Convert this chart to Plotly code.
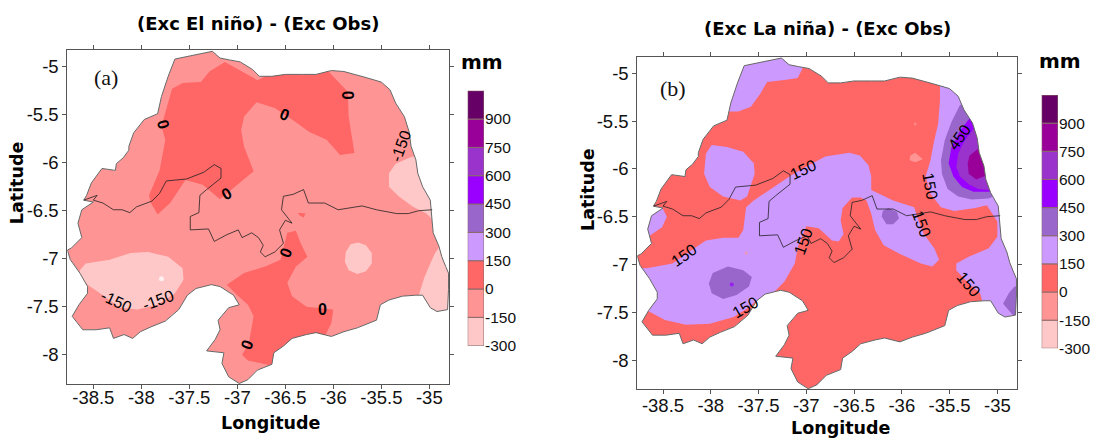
import plotly.graph_objects as go

# ---- data (longitude, latitude) ----
OUTLINE = [(-37.26,-4.84),(-37.18,-4.91),(-37.08,-4.93),(-36.97,-4.95),(-36.84,-5.03),(-36.77,-5.10),(-36.64,-5.10),(-36.50,-5.08),
 (-36.32,-5.08),(-36.18,-5.08),(-36.02,-5.04),(-35.89,-5.05),(-35.67,-5.11),(-35.50,-5.16),(-35.41,-5.24),(-35.35,-5.38),(-35.26,-5.52),
 (-35.21,-5.68),(-35.19,-5.83),(-35.14,-5.97),(-35.12,-6.11),(-35.07,-6.25),(-34.99,-6.39),(-34.98,-6.53),(-34.96,-6.73),(-34.90,-6.87),
 (-34.87,-6.98),(-34.83,-7.08),(-34.80,-7.15),(-34.80,-7.32),(-34.81,-7.53),(-34.92,-7.55),(-34.99,-7.51),(-35.07,-7.38),(-35.14,-7.38),
 (-35.28,-7.39),(-35.42,-7.43),(-35.51,-7.48),(-35.55,-7.64),(-35.75,-7.72),(-35.89,-7.76),(-36.02,-7.81),(-36.18,-7.77),(-36.28,-7.79),
 (-36.43,-7.83),(-36.52,-7.91),(-36.62,-7.98),(-36.64,-8.10),(-36.79,-8.16),(-36.89,-8.26),(-36.98,-8.30),(-37.09,-8.23),(-37.16,-8.09),
 (-37.14,-7.98),(-37.32,-7.96),(-37.23,-7.84),(-37.18,-7.74),(-37.20,-7.64),(-37.09,-7.51),(-36.98,-7.48),(-37.04,-7.38),(-37.18,-7.29),
 (-37.27,-7.27),(-37.43,-7.31),(-37.52,-7.38),(-37.61,-7.53),(-37.75,-7.65),(-37.90,-7.71),(-38.01,-7.76),(-38.09,-7.83),(-38.18,-7.79),
 (-38.29,-7.83),(-38.33,-7.72),(-38.47,-7.74),(-38.61,-7.74),(-38.72,-7.60),(-38.65,-7.48),(-38.56,-7.36),(-38.56,-7.29),(-38.64,-7.15),
 (-38.69,-7.08),(-38.74,-7.01),(-38.77,-6.91),(-38.73,-6.89),(-38.62,-6.78),(-38.66,-6.63),(-38.62,-6.49),(-38.50,-6.41),(-38.60,-6.39),
 (-38.57,-6.34),(-38.52,-6.21),(-38.41,-6.06),(-38.27,-6.08),(-38.26,-6.01),(-38.19,-5.95),(-38.13,-5.87),(-38.13,-5.83),(-38.08,-5.69),
 (-37.97,-5.55),(-37.83,-5.49),(-37.79,-5.31),(-37.72,-5.10),(-37.65,-4.92),(-37.47,-4.88),(-37.26,-4.84)]

STATE_BORDER = [(-38.60,-6.39),(-38.46,-6.34),(-38.50,-6.39),(-38.40,-6.42),(-38.29,-6.49),(-38.20,-6.49),(-38.12,-6.52),(-38.05,-6.46),
 (-37.89,-6.40),(-37.81,-6.32),(-37.74,-6.19),(-37.53,-6.17),(-37.35,-6.10),(-37.24,-6.02),(-37.17,-6.06),(-37.17,-6.16),(-37.32,-6.28),
 (-37.39,-6.34),(-37.40,-6.52),(-37.49,-6.56),(-37.49,-6.70),(-37.30,-6.69),(-37.24,-6.82),(-37.11,-6.75),(-36.99,-6.70),(-36.95,-6.78),
 (-36.85,-6.73),(-36.78,-6.78),(-36.73,-6.86),(-36.76,-6.93),(-36.71,-6.98),(-36.61,-6.93),(-36.52,-6.84),(-36.56,-6.70),(-36.50,-6.60),
 (-36.43,-6.63),(-36.54,-6.49),(-36.52,-6.35),(-36.42,-6.33),(-36.31,-6.28),(-36.26,-6.42),(-36.09,-6.42),(-35.95,-6.49),(-35.70,-6.45),
 (-35.55,-6.49),(-35.34,-6.53),(-35.22,-6.53),(-35.11,-6.50),(-34.97,-6.49)]

# contour bands
LEVELS = [-300,-150,0,150,300,450,600,750,900]
BAND_COLORS = ["#FFC8C8","#FF9494","#FF6666","#CC99FF","#9966CC","#9900FF","#9933CC","#990099","#660066"]
BAND_TOP = 1050

# panel (a): base band -150
A_BASE = -150
A_REGIONS = [
 (0,[(-37.13,-4.95),(-36.79,-5.14),(-36.50,-5.0),(-36.05,-5.0),(-36.05,-5.05),(-35.85,-5.26),(-35.84,-5.52),(-35.78,-5.90),(-35.93,-5.92),
     (-36.07,-5.76),(-36.25,-5.68),(-36.43,-5.55),(-36.61,-5.43),(-36.80,-5.37),(-36.93,-5.52),(-36.96,-5.66),(-36.93,-5.83),(-36.83,-6.09),
     (-37.00,-6.23),(-37.18,-6.38),(-37.36,-6.23),(-37.54,-6.18),(-37.70,-6.42),(-37.83,-6.54),(-37.90,-6.42),(-37.92,-6.34),(-37.81,-6.08),
     (-37.75,-5.76),(-37.79,-5.62),(-37.74,-5.45),(-37.68,-5.23),(-37.57,-5.17),(-37.38,-5.16),(-37.29,-5.05)]),
 (0,[(-36.48,-6.73),(-36.39,-6.71),(-36.34,-6.84),(-36.27,-6.98),(-36.39,-7.08),(-36.48,-7.25),(-36.43,-7.39),(-36.28,-7.50),(-36.0,-7.53),
     (-36.02,-7.67),(-36.09,-7.81),(-36.25,-7.88),(-36.61,-8.12),(-36.89,-8.06),(-36.95,-8.0),(-36.88,-7.88),(-36.83,-7.60),(-36.89,-7.48),
     (-37.0,-7.38),(-37.11,-7.27),(-36.93,-7.15),(-36.71,-7.08),(-36.55,-7.01)]),
 (0,[(-36.37,-6.52),(-36.29,-6.53),(-36.31,-6.57),(-36.35,-6.55)]),
 (-300,[(-35.19,-5.94),(-35.35,-6.01),(-35.42,-6.11),(-35.42,-6.25),(-35.32,-6.35),(-35.17,-6.46),(-35.03,-6.53),(-34.96,-6.60),(-34.8,-6.4),(-34.8,-5.87)]),
 (-300,[(-38.64,-7.12),(-38.58,-7.05),(-38.33,-7.01),(-38.11,-6.94),(-37.93,-6.93),(-37.72,-6.98),(-37.57,-7.10),(-37.56,-7.22),(-37.65,-7.36),
        (-37.83,-7.48),(-38.04,-7.53),(-38.22,-7.51),(-38.40,-7.38),(-38.56,-7.27),(-38.64,-7.17)]),
 (-300,[(-35.74,-6.83),(-35.66,-6.86),(-35.60,-6.94),(-35.60,-7.05),(-35.66,-7.13),(-35.75,-7.16),(-35.84,-7.12),(-35.88,-7.03),(-35.87,-6.93),(-35.82,-6.85)]),
 (-300,[(-34.89,-6.87),(-34.94,-6.94),(-34.99,-7.05),(-35.05,-7.19),(-35.11,-7.38),(-35.03,-7.55),(-34.78,-7.6),(-34.78,-6.87)]),
]
A_SPOTS = [(-37.79,-7.21,"#FFFFFF",5)]
A_LABELS = [("<b>0</b>",-37.77,-5.60,75),("<b>0</b>",-35.85,-5.30,90),("<b>0</b>",-36.51,-5.50,20),("<b>0</b>",-37.11,-6.32,-30),("<b>0</b>",-36.49,-6.94,-70),
            ("<b>0</b>",-36.11,-7.53,0),("<b>0</b>",-36.90,-7.89,-70),("-150",-35.30,-5.83,-70),("-150",-38.26,-7.45,25),("-150",-37.83,-7.43,-20)]

# panel (b): base band 0
B_BASE = 0
B_REGIONS = [
 (150,[(-37.04,-4.95),(-37.09,-5.05),(-37.23,-5.07),(-37.41,-5.09),(-37.48,-5.21),(-37.58,-5.35),(-37.71,-5.40),(-37.87,-5.40),(-37.98,-5.28),(-37.80,-4.83),(-37.09,-4.80)]),
 (150,[(-37.99,-5.75),(-37.83,-5.77),(-37.66,-5.82),(-37.55,-5.94),(-37.54,-6.05),(-37.62,-6.29),(-37.69,-6.33),(-37.87,-6.29),(-38.01,-6.19),(-38.07,-6.05),(-38.05,-5.84)]),
 (150,[(-38.51,-6.40),(-38.46,-6.50),(-38.51,-6.61),(-38.67,-6.72),(-38.76,-6.72),(-38.62,-6.40)]),
 (150,[(-38.67,-7.04),(-38.40,-6.99),(-38.23,-6.87),(-38.05,-6.75),(-37.87,-6.72),(-37.71,-6.72),(-37.66,-6.64),(-37.63,-6.40),(-37.55,-6.33),(-37.37,-6.21),
       (-37.16,-6.07),(-37.01,-5.98),(-36.80,-5.87),(-36.55,-5.83),(-36.44,-5.86),(-36.35,-5.96),(-36.32,-6.08),(-36.32,-6.22),(-36.09,-6.33),(-35.87,-6.40),
       (-35.84,-6.50),(-35.77,-6.68),(-35.66,-6.83),(-35.61,-6.95),(-35.68,-7.02),(-35.80,-6.99),(-36.02,-6.89),(-36.19,-6.80),(-36.28,-6.64),(-36.32,-6.47),
       (-36.37,-6.33),(-36.43,-6.30),(-36.52,-6.30),(-36.62,-6.41),(-36.64,-6.54),(-36.61,-6.68),(-36.66,-6.76),(-36.73,-6.75),(-36.87,-6.62),(-37.0,-6.60),
       (-37.09,-6.82),(-37.12,-6.99),(-37.23,-7.18),(-37.35,-7.30),(-37.50,-7.36),(-37.62,-7.46),(-37.76,-7.55),(-38.01,-7.62),(-38.26,-7.63),(-38.48,-7.58),
       (-38.65,-7.49),(-38.77,-7.49),(-38.77,-7.04)]),
 (150,[(-35.60,-5.07),(-35.60,-5.28),(-35.62,-5.53),(-35.66,-5.70),(-35.70,-5.91),(-35.75,-6.08),(-35.70,-6.26),(-35.59,-6.40),(-35.45,-6.44),(-35.23,-6.41),
       (-35.11,-6.38),(-35.0,-6.55),(-35.0,-6.71),(-35.09,-6.83),(-35.30,-6.92),(-35.43,-6.99),(-35.43,-7.06),(-35.30,-7.20),(-35.18,-7.30),(-35.14,-7.45),
       (-34.78,-7.7),(-34.78,-5.07)]),
 (300,[(-35.39,-5.33),(-35.48,-5.51),(-35.55,-5.70),(-35.59,-5.91),(-35.58,-6.05),(-35.52,-6.21),(-35.41,-6.29),(-35.27,-6.32),(-35.09,-6.31),(-34.98,-6.26),(-34.98,-5.28)]),
 (450,[(-35.29,-5.47),(-35.39,-5.60),(-35.48,-5.77),(-35.51,-5.94),(-35.46,-6.08),(-35.37,-6.19),(-35.25,-6.24),(-35.07,-6.24),(-34.98,-6.22),(-34.98,-5.42)]),
 (600,[(-35.25,-5.58),(-35.34,-5.70),(-35.41,-5.84),(-35.43,-5.98),(-35.39,-6.08),(-35.30,-6.16),(-35.20,-6.21),(-35.09,-6.22),(-34.98,-6.19),(-34.98,-5.53)]),
 (750,[(-35.20,-5.79),(-35.29,-5.86),(-35.31,-5.94),(-35.30,-6.05),(-35.22,-6.11),(-35.12,-6.07),(-35.05,-6.01),(-35.12,-5.80)]),
 (300,[(-34.82,-7.23),(-34.88,-7.30),(-34.94,-7.41),(-34.82,-7.55),(-34.77,-7.55),(-34.77,-7.23)]),
 (300,[(-37.82,-7.02),(-37.66,-7.06),(-37.57,-7.13),(-37.60,-7.23),(-37.73,-7.32),(-37.87,-7.36),(-37.99,-7.30),(-38.02,-7.20),(-37.98,-7.09)]),
 (300,[(-36.14,-6.41),(-36.05,-6.45),(-36.03,-6.52),(-36.09,-6.58),(-36.16,-6.58),(-36.21,-6.50),(-36.20,-6.44)]),
 (-150,[(-35.91,-5.86),(-35.86,-5.83),(-35.78,-5.90),(-35.86,-5.93),(-35.92,-5.91)]),
]
B_SPOTS = [(-37.78,-7.21,"#9900FF",4),(-35.86,-5.53,"#FF9494",3),(-37.63,-6.88,"#FF9494",3)]
B_LABELS = [("150",-37.03,-6.01,-25),("150",-38.28,-6.91,-35),("150",-37.03,-6.76,-70),("150",-37.64,-7.45,-30),("150",-35.70,-6.18,80),
            ("150",-35.79,-6.58,70),("150",-35.30,-7.21,50),("450",-35.40,-5.67,-55)]

LON_TICKS = [-38.5,-38,-37.5,-37,-36.5,-36,-35.5,-35]
LAT_TICKS = [-5,-5.5,-6,-6.5,-7,-7.5,-8]
W, H = 1094, 438
def fx(p): return p/W
def fy(p): return 1-p/H
color_of = dict(zip(LEVELS, BAND_COLORS))
SANS = "Liberation Sans"; BOLD = "DejaVu Sans"; FRAME = "#555555"

fig = go.Figure()

def poly(pts, color, xa, ya):
    fig.add_trace(go.Scatter(x=[p[0] for p in pts], y=[p[1] for p in pts], mode="lines", fill="toself",
                             fillcolor=color, line=dict(width=0, color=color), hoverinfo="skip", showlegend=False,
                             xaxis=xa, yaxis=ya))

def panel(base, regions, spots, labels, xa, ya, xr, yr):
    poly(OUTLINE, color_of[base], xa, ya)
    for lev, pts in regions:
        poly(pts, color_of[lev], xa, ya)
    x0, x1, y0, y1 = xr[0]-.02, xr[1]+.02, yr[0]-.02, yr[1]+.02
    ring = [(x0,y0),(x1,y0),(x1,y1),(x0,y1),(x0,y0)] + OUTLINE + [(x0,y0)]
    poly(ring, "#FFFFFF", xa, ya)
    for pts, col, wid in ((OUTLINE,"#666666",1),(STATE_BORDER,"#222222",0.8)):
        fig.add_trace(go.Scatter(x=[p[0] for p in pts], y=[p[1] for p in pts], mode="lines",
                                 line=dict(color=col, width=wid), hoverinfo="skip", showlegend=False, xaxis=xa, yaxis=ya))
    fig.add_trace(go.Scatter(x=[s[0] for s in spots], y=[s[1] for s in spots], mode="markers",
                             marker=dict(color=[s[2] for s in spots], size=[s[3] for s in spots], line=dict(width=0)),
                             hoverinfo="skip", showlegend=False, xaxis=xa, yaxis=ya))
    for t, lon, lat, ang in labels:
        fig.add_annotation(x=lon, y=lat, xref=xa, yref=ya, text=t, textangle=ang, showarrow=False,
                           xanchor="center", yanchor="middle",
                           font=dict(family=SANS, size=16, color="#000000"))

def legend(xa, ya):
    for lev, col in zip(LEVELS, BAND_COLORS):
        fig.add_trace(go.Bar(x=[0], y=[150], base=lev, width=1, marker=dict(color=col, line=dict(color="#8a6a6a", width=1)),
                             hoverinfo="skip", showlegend=False, xaxis=xa, yaxis=ya))

XA_RANGE = [-38.771,-34.792]; YA_RANGE = [-8.305,-4.826]
XB_RANGE = [-38.769,-34.791]; YB_RANGE = [-8.303,-4.826]
panel(A_BASE, A_REGIONS, A_SPOTS, A_LABELS, "x", "y", XA_RANGE, YA_RANGE)
panel(B_BASE, B_REGIONS, B_SPOTS, B_LABELS, "x2", "y2", XB_RANGE, YB_RANGE)
legend("x3", "y3"); legend("x4", "y4")

def geo_axes(xr, yr, dx, dy, xoff):
    common = dict(showgrid=False, zeroline=False, showline=True, linecolor=FRAME, linewidth=1, mirror="ticks", automargin=False,
                  ticks="outside", ticklen=4, tickcolor=FRAME, tickfont=dict(family=SANS, size=18.5, color="#111111"))
    xax = dict(common, range=xr, domain=dx, tickvals=LON_TICKS, ticktext=[f"{v:g}" for v in LON_TICKS], ticklabelstandoff=xoff)
    yax = dict(common, range=yr, domain=dy, tickvals=LAT_TICKS, ticktext=[f"{v:g}" for v in LAT_TICKS])
    return xax, yax

xa, ya = geo_axes(XA_RANGE, YA_RANGE, [fx(67.3), fx(449.3)], [fy(384), fy(50)], -7)
xb, yb = geo_axes(XB_RANGE, YB_RANGE, [fx(637.3), fx(1017.3)], [fy(389), fy(56.7)], -4)
xa.update(anchor="y"); ya.update(anchor="x"); xb.update(anchor="y2"); yb.update(anchor="x2")

def bar_axes(dx, dy, anchor):
    xax = dict(domain=dx, range=[-.5,.5], visible=False, anchor=anchor, automargin=False)
    yax = dict(domain=dy, range=[-300, BAND_TOP], side="right", tickvals=LEVELS, ticktext=[str(v) for v in LEVELS],
               ticks="", showgrid=False, zeroline=False, showline=False, anchor=anchor.replace("y","x"), automargin=False,
               tickfont=dict(family=SANS, size=15.5, color="#111111"))
    return xax, yax

x3, y3 = bar_axes([fx(467.7), fx(484)], [fy(345.7), fy(90.7)], "y3")
x4, y4 = bar_axes([fx(1041.7), fx(1058)], [fy(348.3), fy(95)], "y4")

fig.update_layout(width=W, height=H, margin=dict(l=0,r=0,t=0,b=0,autoexpand=False), paper_bgcolor="white", plot_bgcolor="white",
                  barmode="overlay", showlegend=False,
                  xaxis=xa, yaxis=ya, xaxis2=xb, yaxis2=yb, xaxis3=x3, yaxis3=y3, xaxis4=x4, yaxis4=y4)

def note(text, px, py, size, family=BOLD, bold=True, angle=0):
    fig.add_annotation(x=fx(px), y=fy(py), xref="paper", yref="paper", text=f"<b>{text}</b>" if bold else text,
                       xanchor="center", yanchor="middle", borderpad=0,
                       showarrow=False, textangle=angle, font=dict(family=family, size=size, color="#000000"))

note("(Exc El niño) - (Exc Obs)", 258, 23, 18)
note("(Exc La niña) - (Exc Obs)", 827, 29, 18)
note("Longitude", 270.7, 423, 17.5)
note("Longitude", 840.5, 427.5, 17.5)
note("Latitude", 17.2, 183, 17.5, angle=-90)
note("Latitude", 588, 190, 17.5, angle=-90)
note("mm", 481.7, 61.7, 20)
note("mm", 1059.7, 61, 20)
fig.add_annotation(x=-38.37, y=-5.11, xref="x", yref="y", text="(a)", showarrow=False, xanchor="center", yanchor="middle",
                   font=dict(family="Liberation Serif", size=22, color="#111111"))
fig.add_annotation(x=-38.40, y=-5.16, xref="x2", yref="y2", text="(b)", showarrow=False, xanchor="center", yanchor="middle",
                   font=dict(family="Liberation Serif", size=22, color="#111111"))

fig.write_html("out.html", config=dict(displayModeBar=False),
               post_script="document.body.style.margin='0';document.body.style.overflow='hidden';")
